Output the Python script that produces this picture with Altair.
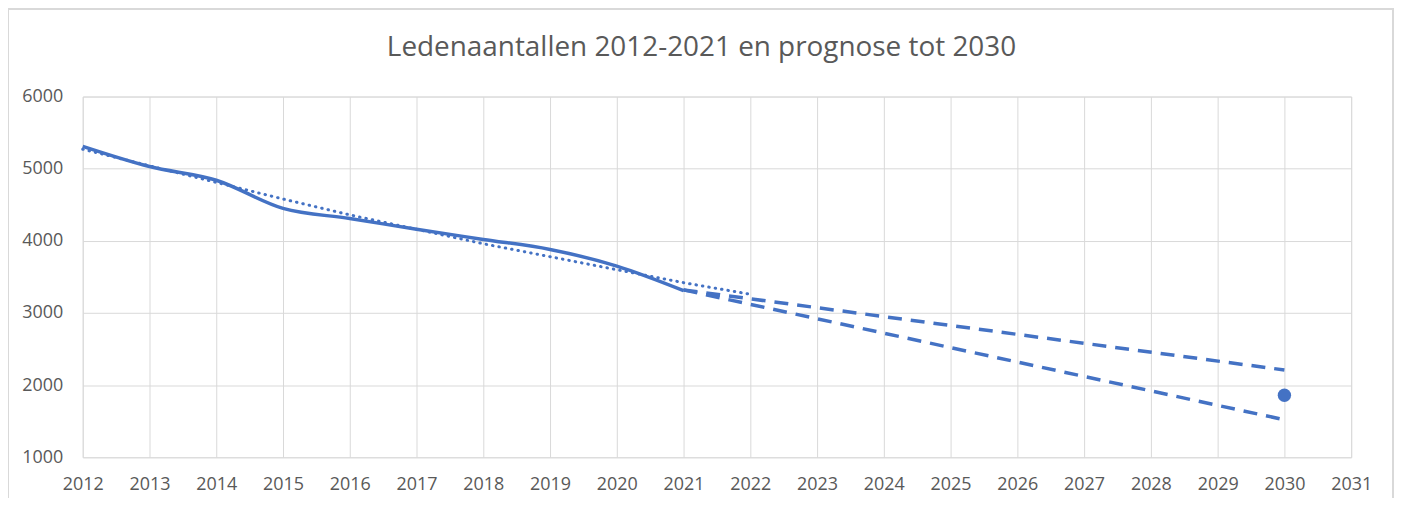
import altair as alt
import pandas as pd

years = [2012, 2013, 2014, 2015, 2016, 2017, 2018, 2019, 2020, 2021]
members = [5310, 5030, 4840, 4450, 4310, 4160, 4020, 3880, 3650, 3310]

trend_years = [2012, 2013, 2014, 2015, 2016, 2017, 2018, 2019, 2020, 2021, 2022]
trend_vals = [5270, 5040, 4810, 4580, 4360, 4160, 3960, 3780, 3600, 3420, 3260]

fc_years = [2021, 2030]
fc_upper = [3320, 2210]
fc_lower = [3320, 1520]

point_year = [2030]
point_val = [1860]

title_text = ["Ledenaantallen 2012-2021 en prognose tot 2030"]

BLUE = "#4472C4"
GRID = "#d9d9d9"
TXT = "#595959"
FONT = "Open Sans"

df_main = pd.DataFrame({"jaar": years, "leden": members})
df_trend = pd.DataFrame({"jaar": trend_years, "leden": trend_vals})
df_fc = pd.DataFrame({
    "jaar": fc_years * 2,
    "leden": fc_upper + fc_lower,
    "reeks": ["hoog"] * 2 + ["laag"] * 2,
})
df_pt = pd.DataFrame({"jaar": point_year, "leden": point_val})
df_title = pd.DataFrame({"t": title_text})

xs = alt.Scale(domain=[2012, 2031], nice=False, zero=False)
ys = alt.Scale(domain=[1000, 6000], nice=False, zero=False)

xax = alt.Axis(values=list(range(2012, 2032)), format="d", title=None,
               grid=True, gridColor=GRID, domain=False, ticks=False,
               labelColor=TXT, labelFont=FONT, labelFontSize=18,
               labelPadding=18, labelFlush=False)
yax = alt.Axis(values=[1000, 2000, 3000, 4000, 5000, 6000], format="d", title=None,
               grid=True, gridColor=GRID, domain=False, ticks=False,
               labelColor=TXT, labelFont=FONT, labelFontSize=18,
               labelPadding=20)

X = alt.X("jaar:Q", scale=xs, axis=xax)
Y = alt.Y("leden:Q", scale=ys, axis=yax)

main = alt.Chart(df_main).mark_line(color=BLUE, strokeWidth=3.5, interpolate="monotone").encode(x=X, y=Y)
trend = alt.Chart(df_trend).mark_line(color=BLUE, strokeWidth=3, strokeDash=[0.5, 6],
                                      strokeCap="round").encode(x=X, y=Y)
fc = alt.Chart(df_fc).mark_line(color=BLUE, strokeWidth=3.5, strokeDash=[14, 9]).encode(
    x=X, y=Y, detail="reeks:N")
pt = alt.Chart(df_pt).mark_circle(color=BLUE, size=180, opacity=1).encode(x=X, y=Y)

border = alt.Chart(df_pt).mark_rect(fill=None, stroke=GRID, strokeWidth=2).encode(
    x=alt.value(-75), x2=alt.value(1315), y=alt.value(-88), y2=alt.value(430))

title = alt.Chart(df_title).mark_text(font=FONT, fontSize=28, color=TXT,
                                      align="center", baseline="middle").encode(
    text="t:N", x=alt.value(621), y=alt.value(-49))

chart = alt.layer(border, main, trend, fc, pt, title).properties(
    width=1273, height=362,
    padding={"left": 75, "top": 88, "right": 44, "bottom": 40},
    autosize=alt.AutoSizeParams(type="none"),
).configure_view(stroke=GRID, strokeWidth=1).configure(background="white")

chart.save("out.html", embed_options={"renderer": "svg", "actions": False})
